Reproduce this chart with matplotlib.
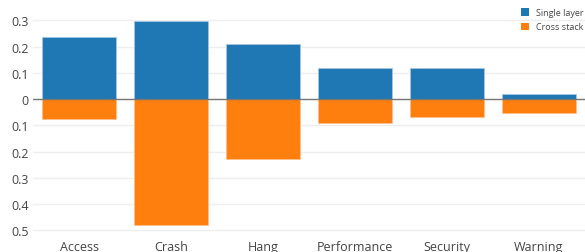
import matplotlib
matplotlib.use('Agg')
import matplotlib.pyplot as plt
from matplotlib.patches import Patch
import numpy as np

categories = ['Access', 'Crash', 'Hang', 'Performance', 'Security', 'Warning']
single_layer = [0.237, 0.297, 0.21, 0.118, 0.12, 0.02]
cross_stack = [0.077, 0.48, 0.23, 0.092, 0.07, 0.052]
yticks = [0.3, 0.2, 0.1, 0, -0.1, -0.2, -0.3, -0.4, -0.5]

plt.rcParams['font.family'] = ['Open Sans', 'DejaVu Sans']

fig = plt.figure(figsize=(5.85, 2.53), dpi=100)
ax = fig.add_axes([33/585, 1 - 232.5/253, 552/585, (232.5 - 18.8)/253])

x = np.arange(len(categories))
ax.bar(x, single_layer, width=0.8, color='#1f77b4', edgecolor='#a9c9e3', lw=0.5, zorder=3)
ax.bar(x, [-v for v in cross_stack], width=0.8, color='#ff7f0e', edgecolor='#ffc08a', lw=0.5, zorder=3)

ax.set_xlim(-0.5, len(categories) - 0.5)
ax.set_ylim(-0.505, 0.31)
ax.set_xticks(x)
ax.set_xticklabels(categories)
ax.set_yticks(yticks)
ax.set_yticklabels(['0' if v == 0 else '%g' % abs(v) for v in yticks])
ax.tick_params(length=0, labelsize=9, colors='#444444', pad=3)
ax.tick_params(axis='x', pad=6)
ax.grid(axis='y', color='#eeeeee', lw=1, zorder=0)
ax.axhline(0, color='#777777', lw=1, zorder=4)
for s in ax.spines.values():
    s.set_visible(False)

handles = [Patch(facecolor='#1f77b4', label='Single layer'),
           Patch(facecolor='#ff7f0e', label='Cross stack')]
leg = fig.legend(handles=handles, loc='upper left', bbox_to_anchor=(521/585, 1 - 9/253),
                 frameon=False, fontsize=6.5, handlelength=0.9, handleheight=0.9,
                 handletextpad=0.8, labelspacing=0.6, borderaxespad=0, borderpad=0)
for t in leg.get_texts():
    t.set_color('#444444')

fig.savefig('out.png', dpi=100)
